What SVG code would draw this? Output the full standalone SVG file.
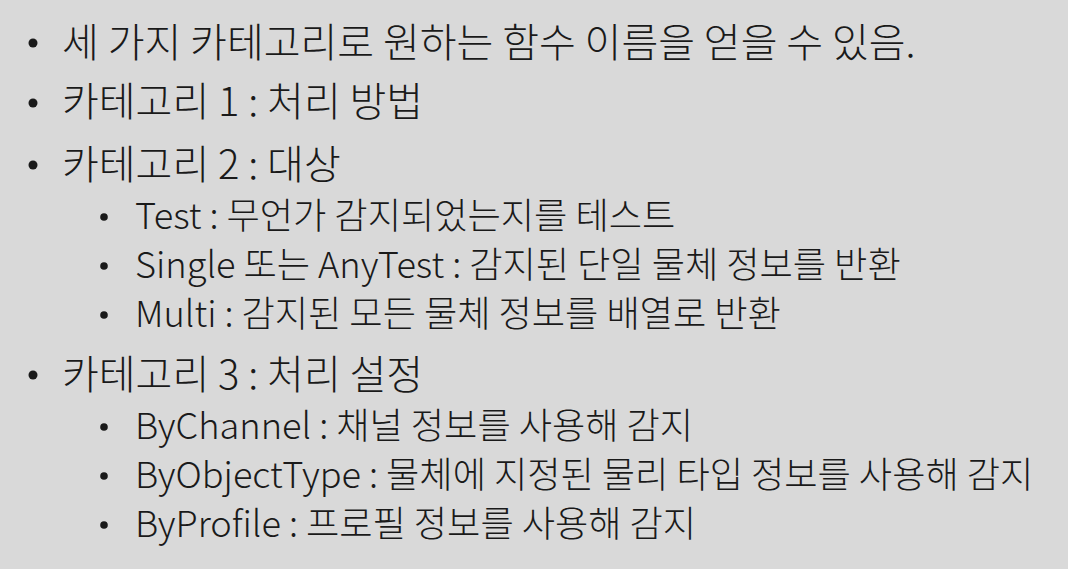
<svg xmlns="http://www.w3.org/2000/svg" width="1068" height="569" viewBox="0 0 1068 569">
<style>
.t{font-family:"Noto Sans CJK KR","Noto Sans",sans-serif;fill:#1a1a1a;font-weight:300}
.l1{font-size:40px}
.l2{font-size:36.2px}
.b{fill:#1a1a1a}
</style>
<rect width="1068" height="569" fill="#d9d9d9"/>
<g id="item1"><circle class="b" cx="33" cy="43" r="4.5"/><text class="t l1" x="62" y="56.5">세 가지 카테고리로 원하는 함수 이름을 얻을 수 있음.</text></g>
<g id="item2"><circle class="b" cx="33" cy="103" r="4.5"/><text class="t l1" x="62" y="116">카테고리 1 : 처리 방법</text></g>
<g id="item3"><circle class="b" cx="33" cy="165" r="4.5"/><text class="t l1" x="62" y="179">카테고리 2 : 대상</text></g>
<g id="item3a"><circle class="b" cx="104" cy="217" r="3.8"/><text class="t l2" x="135" y="229">Test : 무언가 감지되었는지를 테스트</text></g>
<g id="item3b"><circle class="b" cx="104" cy="266" r="3.8"/><text class="t l2" x="135" y="278">Single 또는 AnyTest : 감지된 단일 물체 정보를 반환</text></g>
<g id="item3c"><circle class="b" cx="104" cy="315" r="3.8"/><text class="t l2" x="135" y="327">Multi : 감지된 모든 물체 정보를 배열로 반환</text></g>
<g id="item4"><circle class="b" cx="33" cy="375" r="4.5"/><text class="t l1" x="62" y="389">카테고리 3 : 처리 설정</text></g>
<g id="item4a"><circle class="b" cx="104" cy="427" r="3.8"/><text class="t l2" x="135" y="439">ByChannel : 채널 정보를 사용해 감지</text></g>
<g id="item4b"><circle class="b" cx="104" cy="476" r="3.8"/><text class="t l2" x="135" y="488">ByObjectType : 물체에 지정된 물리 타입 정보를 사용해 감지</text></g>
<g id="item4c"><circle class="b" cx="104" cy="525" r="3.8"/><text class="t l2" x="135" y="537">ByProfile : 프로필 정보를 사용해 감지</text></g>
</svg>
